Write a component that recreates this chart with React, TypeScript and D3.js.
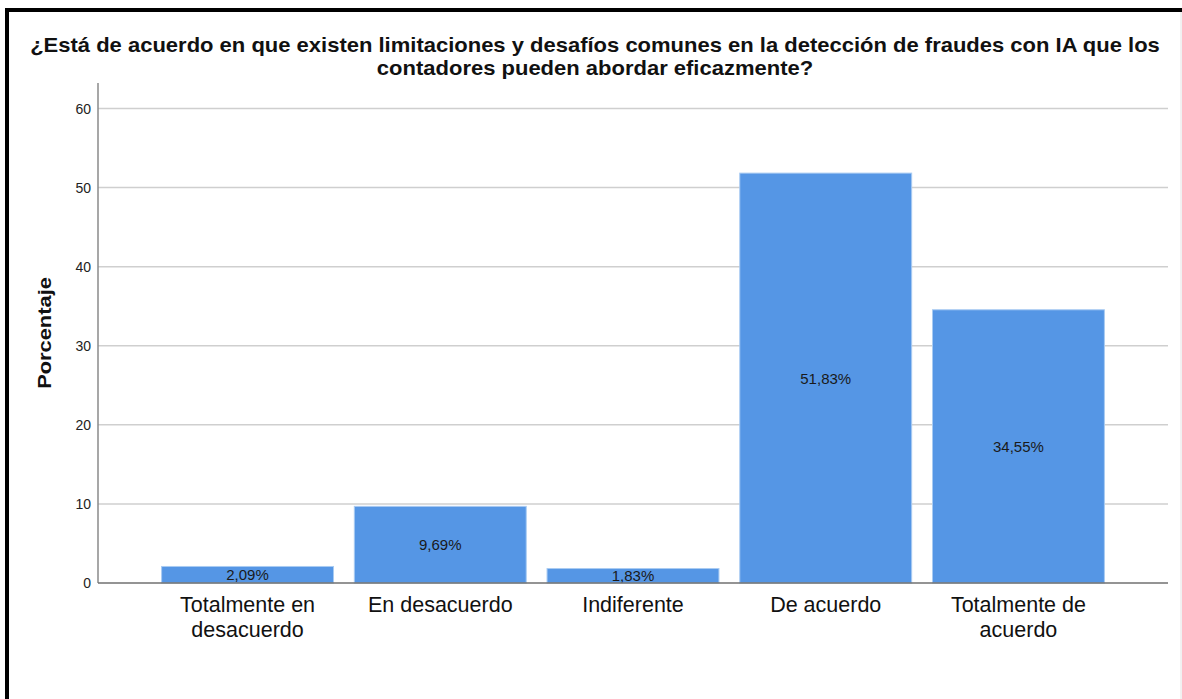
import React from "react";
import * as d3 from "d3";

const categories: string[][] = [
  ["Totalmente en", "desacuerdo"],
  ["En desacuerdo"],
  ["Indiferente"],
  ["De acuerdo"],
  ["Totalmente de", "acuerdo"],
];
const percentages: number[] = [2.09, 9.69, 1.83, 51.83, 34.55];
const yTicks: number[] = [0, 10, 20, 30, 40, 50, 60];
const titleLines: string[] = [
  "¿Está de acuerdo en que existen limitaciones y desafíos comunes en la detección de fraudes con IA que los",
  "contadores pueden abordar eficazmente?",
];
const yLabel = "Porcentaje";

const W = 1182;
const H = 699;
const FONT = "Arial, 'Liberation Sans', Helvetica, sans-serif";

export default function App() {
  const left = 98;
  const right = 1168;
  const y = d3.scaleLinear().domain([0, 60]).range([583, 108.5]);
  const axisTop = 83;
  const x = d3
    .scaleBand<number>()
    .domain(d3.range(percentages.length))
    .range([left, right])
    .paddingInner(0.108)
    .paddingOuter(0.33);

  const fmt = (v: number) => v.toFixed(2).replace(".", ",") + "%";

  return (
    <svg
      width={W}
      height={H}
      style={{ position: "absolute", left: 0, top: 0, display: "block", background: "#fff" }}
      fontFamily={FONT}
    >
      {/* frame */}
      <line x1={7} y1={10} x2={W} y2={10} stroke="#000" strokeWidth={4} />
      <line x1={7} y1={8} x2={7} y2={H} stroke="#000" strokeWidth={4} />
      <line x1={1181} y1={12} x2={1181} y2={H} stroke="#e4e4e4" strokeWidth={1} />

      {/* title */}
      {titleLines.map((t, i) => (
        <text
          key={i}
          transform={`translate(595,${52 + i * 23}) scale(1.1,1)`}
          textAnchor="middle"
          fontSize={20}
          fontWeight="bold"
          fill="#111"
        >
          {t}
        </text>
      ))}

      {/* gridlines */}
      {yTicks.filter((t) => t > 0).map((t) => (
        <line key={t} x1={left} x2={right} y1={y(t)} y2={y(t)} stroke="#cfcfcf" strokeWidth={1.5} />
      ))}

      {/* y tick labels */}
      {yTicks.map((t) => (
        <text key={t} x={91} y={y(t) + 5} textAnchor="end" fontSize={14} fill="#222">
          {t}
        </text>
      ))}

      {/* y axis title */}
      <text
        transform={`translate(51,${(axisTop + y(0)) / 2}) rotate(-90) scale(1.15,1)`}
        textAnchor="middle"
        fontSize={19}
        fontWeight="bold"
        fill="#111"
      >
        {yLabel}
      </text>

      {/* bars */}
      {percentages.map((v, i) => (
        <g key={i}>
          <rect
            x={x(i)!}
            y={y(v)}
            width={x.bandwidth()}
            height={y(0) - y(v)}
            fill="#5596E5"
            stroke="#a9cbf2"
            strokeWidth={1}
          />
          <text
            x={x(i)! + x.bandwidth() / 2}
            y={(y(v) + y(0)) / 2 + 5.5}
            textAnchor="middle"
            fontSize={15}
            fill="#1a1a1a"
          >
            {fmt(v)}
          </text>
        </g>
      ))}

      {/* axes */}
      <line x1={left} x2={left} y1={axisTop} y2={y(0)} stroke="#8a8a8a" strokeWidth={1.5} />
      <line x1={left} x2={right} y1={y(0)} y2={y(0)} stroke="#707070" strokeWidth={1.5} />

      {/* category labels */}
      {categories.map((lines, i) =>
        lines.map((l, j) => (
          <text
            key={`${i}-${j}`}
            x={x(i)! + x.bandwidth() / 2}
            y={612 + j * 25}
            textAnchor="middle"
            fontSize={21.5}
            fill="#111"
          >
            {l}
          </text>
        ))
      )}
    </svg>
  );
}
